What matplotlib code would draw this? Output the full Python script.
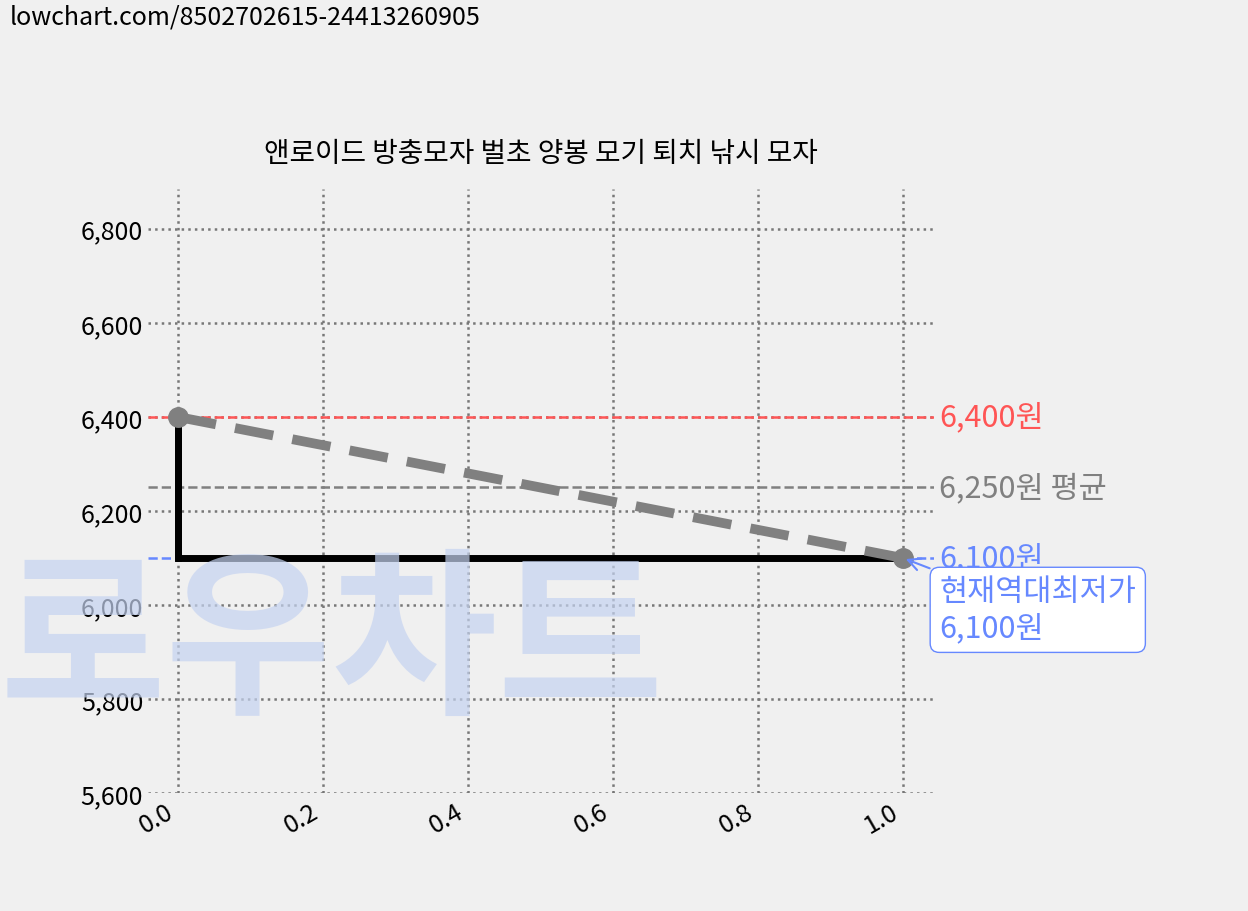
import matplotlib
matplotlib.use("Agg")
import matplotlib.pyplot as plt

plt.rcParams['font.family'] = ['Noto Sans CJK KR', 'DejaVu Sans']

title = "앤로이드 방충모자 벌초 양봉 모기 퇴치 낚시 모자"
xs = [0.0, 1.0]
prices = [6400, 6100]
max_p, avg_p, min_p = 6400, 6250, 6100
yticks = [5600, 5800, 6000, 6200, 6400, 6600, 6800]

fig = plt.figure(figsize=(12.48, 9.12), dpi=100, facecolor='#f0f0f0')
ax = fig.add_axes([0.1186, 0.129, 0.63, 0.663], facecolor='#f0f0f0')
for s in ax.spines.values():
    s.set_visible(False)

fig.text(0.0, 0.19, "로우차트", fontsize=130, fontweight='bold', style='italic',
         color='#c5d3f0', alpha=0.7, va='bottom', ha='left', zorder=0)

ax.grid(True, linestyle=':', color='#777777', linewidth=1.8)
ax.axhline(max_p, color='#ff5555', linestyle='--', linewidth=1.8)
ax.axhline(avg_p, color='#808080', linestyle='--', linewidth=1.8)
ax.axhline(min_p, color='#6688ff', linestyle='--', linewidth=1.8)
ax.step(xs, prices, where='pre', color='black', linewidth=5)
ax.plot([xs[0], xs[0]], [prices[0], prices[1]], color='black', linewidth=5)
ax.plot(xs, prices, color='#808080', linestyle='--', linewidth=7, dashes=(4, 2),
        marker='o', markersize=14)

ax.set_xlim(-0.041, 1.043)
ax.set_ylim(5600, 6885)
ax.set_yticks(yticks)
ax.set_yticklabels([f"{v:,}" for v in yticks], fontsize=18)
ax.set_xticks([0, 0.2, 0.4, 0.6, 0.8, 1.0])
ax.set_xticklabels(["0.0", "0.2", "0.4", "0.6", "0.8", "1.0"], fontsize=18, rotation=30, ha='right')
ax.tick_params(length=0)
ax.set_title(title, fontsize=20, pad=20)

ax.text(1.05, max_p, f"{max_p:,}원", color='#ff5555', fontsize=22, va='center')
ax.text(1.05, avg_p, f"{avg_p:,}원 평균", color='#808080', fontsize=22, va='center')
ax.text(1.05, min_p, f"{min_p:,}원", color='#6688ff', fontsize=22, va='center')
ax.annotate(f"현재역대최저가\n{min_p:,}원", xy=(1.0, min_p), xytext=(1.05, 5990),
            color='#6688ff', fontsize=22, va='center', annotation_clip=False,
            bbox=dict(boxstyle='round,pad=0.3', fc='white', ec='#6688ff'),
            arrowprops=dict(arrowstyle='->', color='#6688ff', lw=1.5))

fig.text(0.008, 0.995, "lowchart.com/8502702615-24413260905", fontsize=18, va='top', ha='left')
fig.savefig("out.png", dpi=100, facecolor=fig.get_facecolor())
